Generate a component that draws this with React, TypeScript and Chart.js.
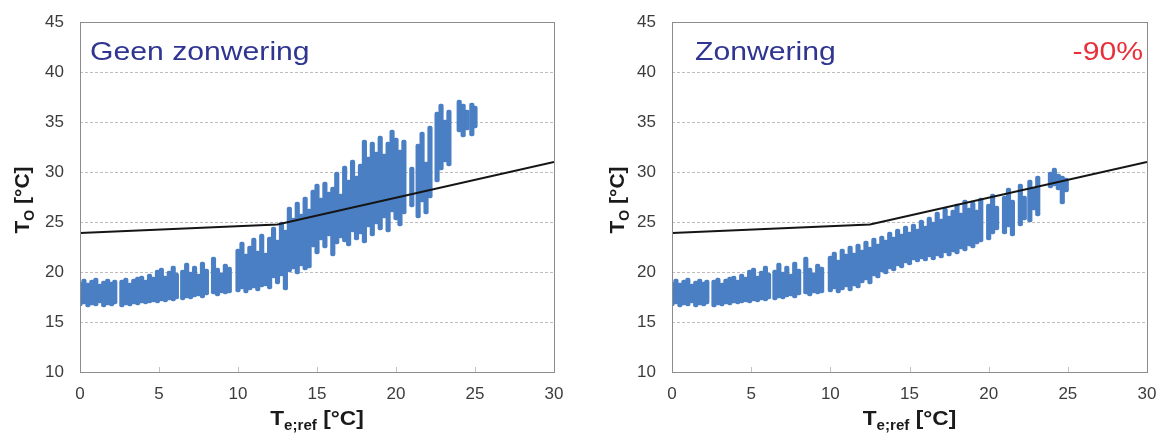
import React, { useEffect, useRef } from "react";
import { Chart, registerables } from "chart.js";

Chart.register(...registerables);

// ---- Data ----
// Axis ticks
const xTicks = [0, 5, 10, 15, 20, 25, 30];
const yTicks = [10, 15, 20, 25, 30, 35, 40, 45];

// Comfort limit line (same in both panels)
const limitX = [0, 12.5, 30];
const limitY = [23.9, 24.75, 31.0];

// Cool-weather hourly columns (identical in both panels): x, low, high
const coolX = [0.0, 0.25, 0.5, 0.75, 1.0, 1.25, 1.5, 1.75, 2.0, 2.2, 2.65, 2.9, 3.15, 3.4, 3.65, 3.9, 4.15, 4.4, 4.65, 4.9, 5.15, 5.4, 5.65, 5.9, 6.1, 6.5, 6.75, 7.0, 7.25, 7.5, 7.75, 8.0, 8.45, 8.7, 8.95, 9.2, 9.45];
const coolLo = [16.6, 16.8, 16.5, 16.7, 16.6, 16.9, 16.5, 16.7, 16.6, 16.8, 16.5, 16.7, 16.6, 16.8, 16.7, 16.9, 16.8, 16.9, 17.0, 16.9, 17.1, 17.0, 17.2, 17.1, 17.3, 17.2, 17.4, 17.3, 17.5, 17.6, 17.4, 17.7, 17.8, 17.6, 17.9, 17.8, 17.9];
const coolHi = [19.0, 19.3, 18.9, 19.2, 19.4, 18.8, 19.1, 19.3, 19.0, 19.2, 19.2, 19.4, 18.9, 19.3, 19.5, 19.6, 19.2, 19.8, 19.5, 20.2, 20.4, 19.6, 20.1, 20.6, 19.9, 20.2, 20.9, 20.0, 20.6, 19.8, 21.0, 20.3, 21.5, 20.4, 19.9, 20.8, 20.5];

// Warm columns, panel A: "Geen zonwering"
const warmAX = [10.0, 10.25, 10.5, 10.75, 11.0, 11.25, 11.5, 11.75, 12.0, 12.25, 12.5, 12.75, 13.0, 13.25, 13.5, 13.75, 14.0, 14.25, 14.5, 14.75, 15.0, 15.25, 15.5, 15.75, 16.0, 16.25, 16.5, 16.75, 17.0, 17.25, 17.5, 17.75, 18.0, 18.25, 18.5, 18.75, 19.0, 19.25, 19.5, 19.75, 20.0, 20.25, 20.5, 21.0, 21.4, 21.65, 21.9, 22.15, 22.6, 22.85, 23.1, 23.35, 24.0, 24.25, 24.5, 24.8, 25.0];
const warmALo = [18.0, 18.3, 17.9, 18.2, 18.4, 18.1, 18.5, 18.6, 18.3, 19.4, 18.8, 19.6, 18.2, 20.0, 20.3, 19.8, 20.6, 20.2, 20.4, 22.5, 21.8, 23.2, 22.4, 23.6, 21.6, 22.8, 23.4, 23.0, 22.6, 24.0, 23.2, 23.8, 22.9, 24.5, 23.6, 24.8, 24.2, 25.4, 24.0, 26.0, 25.2, 24.6, 25.8, 26.5, 25.4, 27.0, 25.8, 27.4, 29.0, 30.2, 31.0, 30.6, 34.0, 33.5, 34.2, 33.6, 34.4];
const warmAHi = [22.3, 23.0, 21.8, 22.6, 23.4, 22.1, 23.8, 21.9, 23.5, 24.5, 23.2, 25.0, 24.2, 26.5, 25.4, 27.0, 25.8, 27.5, 26.3, 28.2, 28.8, 27.4, 29.0, 28.0, 28.5, 30.0, 27.8, 30.6, 29.2, 31.2, 29.6, 30.8, 33.2, 31.5, 33.0, 32.0, 33.6, 31.8, 33.0, 34.2, 33.4, 32.2, 33.2, 30.5, 32.8, 34.0, 31.0, 34.6, 36.0, 36.8, 35.2, 36.2, 37.2, 36.8, 36.2, 36.9, 36.6];

// Warm columns, panel B: "Zonwering"
const warmBX = [10.0, 10.25, 10.5, 10.75, 11.0, 11.25, 11.5, 11.75, 12.0, 12.25, 12.5, 12.75, 13.0, 13.25, 13.5, 13.75, 14.0, 14.25, 14.5, 14.75, 15.0, 15.25, 15.5, 15.75, 16.0, 16.25, 16.5, 16.75, 17.0, 17.25, 17.5, 17.75, 18.0, 18.25, 18.5, 18.75, 19.0, 19.25, 19.5, 20.0, 20.25, 20.5, 21.0, 21.25, 21.5, 22.0, 22.25, 22.6, 22.85, 23.1, 23.9, 24.15, 24.4, 24.65, 24.9];
const warmBLo = [18.0, 18.3, 17.9, 18.2, 18.5, 18.1, 18.6, 18.4, 18.9, 19.2, 18.8, 19.6, 19.4, 20.0, 19.8, 20.3, 20.1, 20.6, 20.4, 20.9, 20.7, 21.2, 21.0, 21.3, 21.1, 21.5, 21.2, 21.6, 21.4, 21.9, 21.6, 22.0, 21.8, 22.3, 22.1, 22.6, 22.4, 22.8, 23.0, 23.2, 23.8, 24.2, 23.8, 24.5, 23.6, 24.6, 25.2, 25.0, 26.2, 25.6, 28.4, 28.6, 28.2, 26.8, 28.0];
const warmBHi = [21.6, 22.0, 21.2, 22.3, 21.8, 22.6, 21.9, 22.8, 22.2, 23.1, 22.5, 23.4, 22.8, 23.6, 23.2, 24.0, 23.5, 24.3, 23.8, 24.6, 24.0, 24.8, 24.3, 25.2, 24.6, 25.5, 25.0, 26.0, 25.3, 26.4, 25.6, 26.2, 26.8, 25.9, 27.2, 26.4, 27.0, 26.2, 27.4, 26.8, 27.8, 26.6, 27.6, 28.4, 27.2, 28.8, 27.6, 29.2, 28.4, 29.6, 30.0, 30.4, 29.8, 29.6, 29.4];

const FONT = '"Liberation Sans", Arial, Helvetica, sans-serif';

type Run = { t: string; size: number; bold?: boolean; dy?: number };

function drawRuns(ctx: CanvasRenderingContext2D, runs: Run[], x: number, y: number, align: string, color: string, sx = 1, rotate = false) {
  ctx.save();
  ctx.translate(x, y);
  if (rotate) ctx.rotate(-Math.PI / 2);
  ctx.scale(sx, 1);
  ctx.fillStyle = color;
  ctx.textBaseline = "alphabetic";
  ctx.textAlign = "left";
  const widths = runs.map((r) => {
    ctx.font = `${r.bold ? "bold " : ""}${r.size}px ${FONT}`;
    return ctx.measureText(r.t).width;
  });
  const total = widths.reduce((a, b) => a + b, 0);
  let cx = align === "left" ? 0 : align === "center" ? -total / 2 : -total;
  runs.forEach((r, i) => {
    ctx.font = `${r.bold ? "bold " : ""}${r.size}px ${FONT}`;
    ctx.fillText(r.t, cx, r.dy || 0);
    cx += widths[i];
  });
  ctx.restore();
}

const framePlugin = {
  id: "frame",
  beforeDatasetsDraw(chart: any) {
    const { ctx, chartArea: a } = chart;
    const y = chart.scales.y;
    const x = chart.scales.x;
    ctx.save();
    ctx.strokeStyle = "#bdbdbd";
    ctx.lineWidth = 1;
    ctx.setLineDash([3, 2]);
    yTicks.slice(1, -1).forEach((v) => {
      const py = Math.round(y.getPixelForValue(v)) + 0.5;
      ctx.beginPath();
      ctx.moveTo(a.left, py);
      ctx.lineTo(a.right, py);
      ctx.stroke();
    });
    ctx.setLineDash([]);
    ctx.strokeStyle = "#c4c4c4";
    xTicks.slice(1, -1).forEach((v) => {
      const px = Math.round(x.getPixelForValue(v)) + 0.5;
      ctx.beginPath();
      ctx.moveTo(px, a.bottom);
      ctx.lineTo(px, a.bottom - 5);
      ctx.stroke();
    });
    ctx.restore();
  },
  afterDatasetsDraw(chart: any) {
    const { ctx, chartArea: a } = chart;
    ctx.save();
    ctx.strokeStyle = "#8c8c8c";
    ctx.lineWidth = 1;
    ctx.strokeRect(Math.round(a.left) + 0.5, Math.round(a.top) + 0.5, Math.round(a.right - a.left), Math.round(a.bottom - a.top));
    ctx.restore();
  },
  afterDraw(chart: any) {
    const { ctx, chartArea: a } = chart;
    const o = chart.options.plugins.frame;
    // panel label
    drawRuns(ctx, [{ t: o.label, size: 26 }], a.left + o.labelDx, 60, "left", "#2f3590", 1.16);
    if (o.corner) {
      drawRuns(ctx, [{ t: o.corner, size: 26 }], a.right - 4, 60, "right", "#e8303a", 1.16);
    }
    const cx = (a.left + a.right) / 2;
    // x-axis title
    drawRuns(
      ctx,
      [
        { t: "T", size: 21, bold: true },
        { t: "e;ref", size: 14, bold: true, dy: 5 },
        { t: " [°C]", size: 21, bold: true },
      ],
      cx,
      425,
      "center",
      "#1a1a1a",
      1.08
    );
    // y-axis title (rotated)
    const cy = (a.top + a.bottom) / 2 + 3;
    drawRuns(
      ctx,
      [
        { t: "T", size: 21, bold: true },
        { t: "O", size: 14, bold: true, dy: 5 },
        { t: " [°C]", size: 21, bold: true },
      ],
      a.left - o.yTitleGap,
      cy,
      "center",
      "#1a1a1a",
      1,
      true
    );
  },
};

function buildColumns(xs: number[], lo: number[], hi: number[]) {
  return xs.map((x, i) => ({ x, y: [lo[i], hi[i]] }));
}

type PanelProps = {
  width: number;
  left: number;
  yWidth: number;
  padRight: number;
  label: string;
  labelDx: number;
  corner?: string;
  yTitleGap: number;
  warmX: number[];
  warmLo: number[];
  warmHi: number[];
};

function Panel(p: PanelProps) {
  const ref = useRef<HTMLCanvasElement | null>(null);
  useEffect(() => {
    if (!ref.current) return;
    const columns = buildColumns(coolX, coolLo, coolHi).concat(buildColumns(p.warmX, p.warmLo, p.warmHi));
    const line = limitX.map((x, i) => ({ x, y: limitY[i] }));
    const chart = new Chart(ref.current, {
      type: "bar",
      data: {
        datasets: [
          {
            type: "line",
            data: line,
            borderColor: "#151515",
            borderWidth: 2,
            pointRadius: 0,
            fill: false,
            tension: 0,
            order: 1,
          } as any,
          {
            type: "bar",
            data: columns,
            backgroundColor: "#4a7fc4",
            borderWidth: 0,
            barThickness: 4.5,
            borderRadius: 2,
            borderSkipped: false,
            order: 2,
          } as any,
        ],
      },
      options: {
        animation: false,
        responsive: false,
        devicePixelRatio: 1,
        layout: { padding: { left: 0, top: 22, right: p.padRight, bottom: 0 } },
        plugins: {
          legend: { display: false },
          tooltip: { enabled: false },
          frame: { label: p.label, labelDx: p.labelDx, corner: p.corner, yTitleGap: p.yTitleGap },
        } as any,
        scales: {
          x: {
            type: "linear",
            min: 0,
            max: 30,
            offset: false,
            grid: { display: false, drawTicks: false },
            border: { display: false },
            afterBuildTicks: (s: any) => {
              s.ticks = xTicks.map((v) => ({ value: v }));
            },
            afterFit: (s: any) => {
              s.height = 62;
              s.paddingLeft = 0;
              s.paddingRight = 0;
              s.paddingTop = 0;
              s.paddingBottom = 0;
            },
            ticks: { padding: 12, color: "#3c3c3c", font: { family: FONT, size: 17 } },
          },
          y: {
            type: "linear",
            min: 10,
            max: 45,
            grid: { display: false, drawTicks: false },
            border: { display: false },
            afterBuildTicks: (s: any) => {
              s.ticks = yTicks.map((v) => ({ value: v }));
            },
            afterFit: (s: any) => {
              s.width = p.yWidth;
              s.paddingTop = 0;
              s.paddingBottom = 0;
              s.paddingLeft = 0;
              s.paddingRight = 0;
            },
            ticks: { padding: 16, color: "#3c3c3c", font: { family: FONT, size: 17 } },
          },
        },
      } as any,
      plugins: [framePlugin as any],
    });
    return () => chart.destroy();
  }, []);
  return (
    <div style={{ position: "absolute", left: p.left, top: 0, width: p.width, height: 434 }}>
      <canvas ref={ref} width={p.width} height={434} style={{ display: "block" }} />
    </div>
  );
}

export default function App() {
  return (
    <div style={{ position: "fixed", left: 0, top: 0, width: 1161, height: 434, background: "#fff" }}>
      <Panel
        width={580}
        left={0}
        yWidth={80}
        padRight={26}
        label="Geen zonwering"
        labelDx={10}
        yTitleGap={51}
        warmX={warmAX}
        warmLo={warmALo}
        warmHi={warmAHi}
      />
      <Panel
        width={581}
        left={580}
        yWidth={92}
        padRight={14}
        label="Zonwering"
        labelDx={23}
        corner="-90%"
        yTitleGap={48}
        warmX={warmBX}
        warmLo={warmBLo}
        warmHi={warmBHi}
      />
    </div>
  );
}
